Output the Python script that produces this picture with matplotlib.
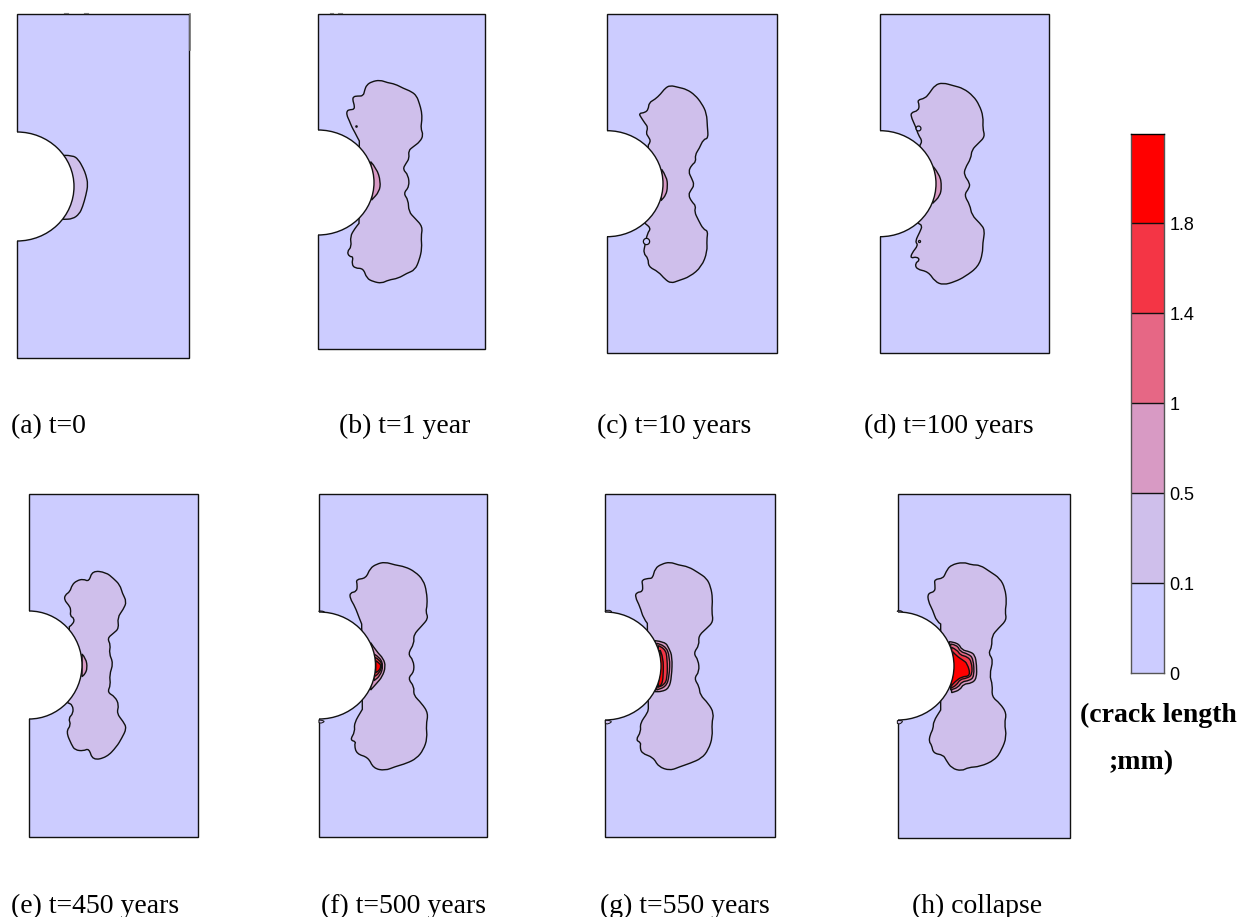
import matplotlib
matplotlib.use("Agg")
import matplotlib.pyplot as plt
from matplotlib.patches import Ellipse, Arc, PathPatch, Rectangle
from matplotlib.path import Path

# colour of each crack length band, low to high
band_colors = ["#CCCCFF", "#CFBFEB", "#D89AC4", "#E66785", "#F43545", "#FF0000"]
band_ticks = ["0", "0.1", "0.5", "1", "1.4", "1.8"]

captions = ["(a) t=0", "(b) t=1 year", "(c) t=10 years", "(d) t=100 years",
            "(e) t=450 years", "(f) t=500 years", "(g) t=550 years", "(h) collapse"]
caption_x = [11, 339, 597, 864, 11, 321, 600, 912]
caption_y = [433, 433, 433, 433, 913, 913, 913, 913]

# plate outline in image pixels: left, right, top, bottom
plate_l = [17, 318, 607, 880, 29, 319, 605, 898]
plate_r = [189, 485, 777, 1049, 198, 487, 775, 1070]
plate_t = [14, 14, 14, 14, 494, 494, 494, 494]
plate_b = [358, 349, 353, 353, 837, 837, 837, 838]
# hole: centre y, half width, half height
hole_y = [186.5, 182.5, 183.7, 183.7, 665, 665.5, 666, 666]
hole_w = [57, 56, 56, 56, 53, 56.5, 56, 56]
hole_h = [54.5, 52.5, 53, 53, 54, 53.5, 54, 54]

# contours, pixel coordinates of 3x crops
crop_a = (0, 0)
a_1 = [(193,466),(218,466),(235,478),(250,505),(258,525),(264,553),(258,585),(248,620),(238,642),(218,657),(190,658)]

crop_b = (300, 60)
b_1 = [(178,243),(172,232),(165,218),(155,200),(148,182),(140,165),(141,152),(150,149),(163,148),(163,135),(158,120),(160,110),(172,108),(190,108),(194,90),(200,75),(215,65),(240,60),(262,68),(285,72),(310,85),(335,95),(350,108),(358,130),(365,155),(366,180),(362,205),(370,225),(360,245),(340,260),(325,272),(328,295),(318,310),(308,328),(325,345),(328,380),(310,400),(325,420),(326,455),(345,475),(368,500),(363,530),(366,565),(358,600),(345,630),(320,640),(295,655),(265,660),(245,670),(220,665),(200,655),(190,625),(165,625),(155,612),(160,590),(148,590),(141,575),(155,560),(150,530),(165,505),(177,490)]
b_2 = [(212,305),(230,325),(242,365),(238,395),(215,420)]

crop_c = (590, 70)
c_1 = [(175,225),(183,215),(175,200),(168,190),(174,172),(165,160),(155,145),(146,130),(165,128),(175,118),(177,98),(195,88),(212,72),(225,55),(240,46),(265,52),(290,58),(315,75),(335,100),(350,130),(352,170),(355,205),(340,208),(328,235),(315,255),(318,275),(305,285),(295,305),(305,325),(313,345),(303,360),(295,375),(305,395),(318,408),(313,425),(325,450),(340,478),(354,483),(350,510),(352,545),(335,590),(300,620),(265,632),(243,640),(225,628),(205,605),(175,590),(175,565),(160,550),(165,525),(172,490),(183,475),(165,460)]
c_2 = [(215,298),(230,320),(233,350),(228,375),(213,392)]

crop_d = (870, 70)
d_1 = [(150,225),(158,215),(145,195),(137,170),(125,145),(122,128),(145,122),(148,105),(142,90),(165,85),(178,70),(195,45),(218,38),(250,47),(280,55),(310,78),(328,105),(340,140),(338,175),(345,200),(325,220),(305,240),(303,265),(285,295),(282,315),(300,340),(297,355),(282,375),(300,405),(305,435),(330,460),(345,480),(338,520),(338,550),(325,590),(285,620),(255,635),(220,645),(195,635),(175,605),(140,598),(135,580),(150,570),(140,560),(122,565),(125,550),(145,525),(135,515),(150,485),(157,467),(145,460)]
d_2 = [(190,290),(210,315),(215,350),(210,378),(188,400)]

crop_e = (20, 550)
e_1 = [(148,230),(160,222),(163,205),(150,198),(153,178),(146,165),(133,150),(135,135),(150,125),(156,105),(170,92),(190,87),(207,95),(217,62),(258,67),(280,85),(300,105),(307,130),(320,155),(310,178),(292,203),(297,235),(280,250),(262,265),(272,285),(267,310),(280,340),(268,375),(272,405),(262,427),(285,440),(297,465),(290,490),(310,515),(320,535),(305,565),(290,590),(260,622),(218,631),(207,595),(190,603),(165,600),(155,585),(138,545),(153,525),(145,505),(160,490),(158,465),(143,458)]
e_2 = [(186,312),(198,325),(202,355),(195,372),(186,380)]

crop_f = (305, 550)
f_1 = [(170,222),(163,205),(150,170),(135,145),(135,128),(155,125),(157,105),(153,88),(183,85),(195,55),(215,42),(240,36),(270,45),(300,50),(330,65),(355,90),(365,125),(367,165),(362,185),(370,205),(350,228),(325,255),(328,280),(308,312),(325,330),(328,365),(308,385),(328,410),(325,435),(350,460),(370,490),(363,525),(367,565),(355,600),(335,625),(305,640),(270,650),(240,662),(205,655),(190,622),(155,612),(148,585),(153,575),(135,570),(150,545),(147,520),(172,478)]
f_2 = [(197,278),(215,305),(235,325),(242,350),(232,380),(215,400),(197,420)]
f_3 = [(207,312),(225,322),(235,348),(225,378),(207,392)]
f_4 = [(210,322),(225,330),(232,348),(222,370),(208,380)]
f_5 = [(212,332),(225,340),(228,350),(222,362),(212,368)]
f_top = [(42,183),(50,182),(62,187),(42,187)]
f_bot = [(42,510),(62,512),(50,520),(42,518)]

crop_g = (590, 550)
g_1 = [(172,220),(160,205),(150,170),(135,140),(140,127),(158,125),(158,105),(155,90),(175,85),(188,85),(195,55),(215,42),(240,36),(265,45),(295,50),(325,68),(350,85),(362,110),(368,145),(365,185),(370,215),(350,235),(325,258),(328,285),(310,310),(325,330),(328,365),(312,385),(328,410),(330,435),(355,460),(372,490),(365,520),(368,560),(355,600),(335,625),(300,640),(270,650),(240,662),(205,650),(190,622),(155,610),(150,590),(153,578),(137,570),(153,545),(150,520),(173,488),(175,475)]
g_2 = [(195,272),(225,275),(237,295),(247,320),(245,380),(237,415),(215,425),(195,425)]
g_3 = [(200,280),(225,285),(240,320),(238,380),(228,410),(200,420)]
g_4 = [(205,287),(225,295),(232,325),(232,385),(222,405),(203,412)]
g_5 = [(210,300),(220,320),(220,380),(215,405),(205,410)]
g_top = [(46,183),(54,178),(70,187),(46,187)]
g_bot = [(46,510),(70,512),(54,523),(46,520)]

crop_h = (880, 550)
h_1 = [(182,222),(170,215),(158,180),(145,155),(143,130),(165,125),(165,105),(163,88),(190,85),(198,65),(212,45),(250,36),(275,45),(300,45),(330,65),(360,85),(375,115),(380,155),(375,185),(380,210),(355,235),(335,258),(336,290),(325,310),(340,330),(328,375),(338,405),(335,440),(360,460),(380,490),(373,520),(380,560),(365,600),(345,630),(300,650),(265,652),(245,663),(215,655),(198,630),(190,615),(160,610),(155,585),(147,575),(150,555),(160,535),(160,515),(182,480)]
h_2 = [(208,275),(235,278),(245,300),(270,305),(285,315),(290,345),(290,385),(275,400),(250,402),(240,420),(215,428)]
h_3 = [(212,282),(232,285),(240,305),(265,312),(280,325),(283,380),(268,392),(245,395),(235,412),(212,420)]
h_4 = [(215,292),(232,300),(240,315),(262,320),(275,335),(277,375),(260,385),(240,388),(230,405),(212,415)]
h_5 = [(218,305),(230,318),(248,330),(262,340),(272,378),(245,380),(225,395),(212,410)]
h_top = [(52,183),(58,180),(72,187),(52,187)]
h_bot = [(52,512),(72,510),(60,523),(52,520)]

crops = [crop_a, crop_b, crop_c, crop_d, crop_e, crop_f, crop_g, crop_h]
contours = [[a_1], [b_1, b_2], [c_1, c_2], [d_1, d_2], [e_1, e_2],
            [f_1, f_2, f_3, f_4, f_5], [g_1, g_2, g_3, g_4, g_5], [h_1, h_2, h_3, h_4, h_5]]
slivers = [[], [], [], [], [], [f_top, f_bot], [g_top, g_bot], [h_top, h_bot]]

plt.rcParams["font.family"] = ["Liberation Serif", "DejaVu Serif"]
W, H = 1241, 917
fig = plt.figure(figsize=(W / 100, H / 100), dpi=100)
ax = fig.add_axes([0, 0, 1, 1])
ax.set_xlim(0, W)
ax.set_ylim(H, 0)
ax.axis("off")

line_c = "#111111"


def contour_patch(pts, crop, color, z, lw=1.0):
    # rounded outline through the traced points
    p = [(crop[0] + x / 3, crop[1] + y / 3) for x, y in pts]
    verts = [p[0]]
    codes = [Path.MOVETO]
    for j in range(1, len(p) - 1):
        mid = ((p[j][0] + p[j + 1][0]) / 2, (p[j][1] + p[j + 1][1]) / 2)
        verts += [p[j], mid]
        codes += [Path.CURVE3, Path.CURVE3]
    verts += [p[-1], p[0]]
    codes += [Path.LINETO, Path.CLOSEPOLY]
    return PathPatch(Path(verts, codes), fc=color, ec=line_c, lw=lw, zorder=z)


for i in range(8):
    l, r, t, b = plate_l[i], plate_r[i], plate_t[i], plate_b[i]
    ax.add_patch(Rectangle((l, t), r - l, b - t, fc=band_colors[0], ec=line_c, lw=1.0, zorder=1))
    for pts in slivers[i]:
        ax.add_patch(contour_patch(pts, crops[i], band_colors[1], 2, lw=0.7))
    for k, pts in enumerate(contours[i]):
        ax.add_patch(contour_patch(pts, crops[i], band_colors[k + 1], 2 + k))
    hole = (l, hole_y[i])
    ax.add_patch(Ellipse(hole, 2 * hole_w[i], 2 * hole_h[i], fc="white", ec="none", zorder=10))
    ax.add_patch(Rectangle((l - hole_w[i], hole_y[i] - hole_h[i]), hole_w[i] - 1, 2 * hole_h[i],
                           fc="white", ec="none", zorder=10))
    ax.add_patch(Arc(hole, 2 * hole_w[i], 2 * hole_h[i], theta1=-90, theta2=90, ec=line_c, lw=1.0, zorder=11))
    ax.text(caption_x[i], caption_y[i], captions[i], fontsize=20, va="baseline", ha="left", color="black")

# small closed contours near the hole
for (x, y, s) in [(645.7, 241, 4.5), (917.7, 127.7, 3.5), (918.7, 241, 1.5), (356, 126, 1)]:
    ax.plot([x], [y], "o", ms=s, mfc=band_colors[0], mec=line_c, mew=0.9, zorder=8)
# stray marks on the top edges
for (x0, x1) in [(64, 68), (84, 88), (330, 333), (338, 342)]:
    ax.plot([x0, x1], [13, 13], color="#777777", lw=0.8, zorder=1)
ax.plot([189.5, 189.5], [14, 50], color="#777777", lw=1.2, zorder=1)

ax.text(1080, 722, "(crack length", fontsize=20, fontweight="bold", va="baseline", ha="left")
ax.text(1109, 769, ";mm)", fontsize=20, fontweight="bold", va="baseline", ha="left")

# colour scale
cax = fig.add_axes([1131 / W, 1 - 673 / H, 33 / W, 539.5 / H])
levels = list(range(len(band_colors)))
cax.bar([0] * 6, [1] * 6, bottom=levels, width=1, color=band_colors, align="center")
cax.set_xlim(-0.5, 0.5)
cax.set_ylim(0, 6)
cax.set_xticks([])
cax.yaxis.tick_right()
cax.set_yticks(levels)
cax.set_yticklabels(band_ticks, fontsize=13, family=["Liberation Sans", "DejaVu Sans"])
cax.tick_params(axis="y", length=0, pad=4)
for v in levels[1:]:
    cax.axhline(v, color=line_c, lw=1)
for side in cax.spines.values():
    side.set_color("#555555")
    side.set_linewidth(1)
cax.spines["top"].set_color("black")

fig.savefig("out.png", dpi=100)
